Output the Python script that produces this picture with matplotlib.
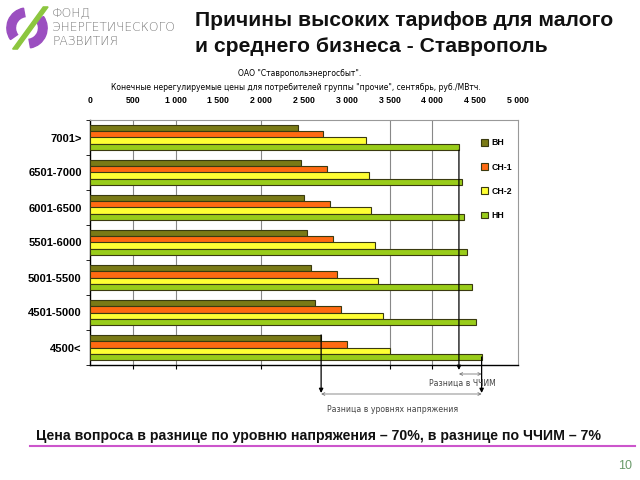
import matplotlib
matplotlib.use("Agg")
import matplotlib.pyplot as plt
import matplotlib.transforms as mtransforms
from matplotlib.patches import Wedge, Polygon
import numpy as np

plt.rcParams['font.family'] = ['Liberation Sans', 'DejaVu Sans']

categories = ["4500<", "4501-5000", "5001-5500", "5501-6000", "6001-6500", "6501-7000", "7001>"]
series_names = ["ВН", "СН-1", "СН-2", "НН"]
vn = [2700, 2630, 2580, 2535, 2500, 2470, 2430]
sn1 = [3000, 2930, 2880, 2840, 2800, 2765, 2720]
sn2 = [3500, 3420, 3370, 3325, 3285, 3260, 3220]
nn = [4575, 4515, 4460, 4410, 4370, 4340, 4310]
top_ticks = [0, 500, 1000, 1500, 2000, 2500, 3000, 3500, 4000, 4500, 5000]
top_tick_labels = ["0", "500", "1 000", "1 500", "2 000", "2 500", "3 000", "3 500", "4 000", "4 500", "5 000"]
grid_ticks = [500, 1000, 2000, 3500, 4000]

colors = ["#7a7a16", "#ff6a12", "#ffff33", "#99cc1a"]
edge = "#3a3a10"

fig = plt.figure(figsize=(6.4, 4.8), dpi=100)
W, H = 640, 480

def fx(px):
    return px / W

def fy(py):
    return 1 - py / H

# ---- Logo ----
lax = fig.add_axes([fx(4), fy(52), fx(46), 48 / H])
lax.set_xlim(-1.2, 1.2)
lax.set_ylim(-1.2, 1.2)
lax.set_aspect('equal')
lax.axis('off')
purple = "#9b4fc0"
lax.add_patch(Wedge((0, 0), 1.05, 100, 215, width=0.45, color=purple))
lax.add_patch(Wedge((0, 0), 1.05, 280, 35, width=0.45, color=purple))
lax.add_patch(Polygon([[-0.75, -1.1], [-0.5, -1.1], [1.1, 1.1], [0.85, 1.1]], closed=True, color="#8cc63f"))

for txt, yy in [("ФОНД", 12), ("ЭНЕРГЕТИЧЕСКОГО", 27), ("РАЗВИТИЯ", 41)]:
    fig.text(fx(52), fy(yy), txt, fontsize=8.8, color="#7a7a7a", va='center', ha='left',
             family=['DejaVu Sans'], fontweight='light')

# ---- Title ----
fig.text(fx(195), fy(20), "Причины высоких тарифов для малого", fontsize=15.2, fontweight='bold',
         va='center', ha='left', color="#111111")
fig.text(fx(195), fy(47), "и среднего бизнеса - Ставрополь", fontsize=15.2, fontweight='bold',
         va='center', ha='left', color="#111111")

# ---- Chart ----
ax = fig.add_axes([fx(90), fy(365), fx(518) - fx(90), (365 - 120) / H])
y = np.arange(len(categories))
bh = 0.18
offsets = [1.5 * bh, 0.5 * bh, -0.5 * bh, -1.5 * bh]
for vals, off, c, name in zip([vn, sn1, sn2, nn], offsets, colors, series_names):
    ax.barh(y + off, vals, height=bh, color=c, edgecolor=edge, linewidth=0.8, label=name, zorder=3)

ax.set_xlim(0, 5000)
ax.set_ylim(-0.5, len(categories) - 0.5)
ax.set_yticks(y)
ax.set_yticklabels(categories, fontsize=8, fontweight='bold')
ax.set_yticks(np.arange(-0.5, len(categories), 1), minor=True)
ax.tick_params(axis='y', which='major', length=0, pad=6)
ax.tick_params(axis='y', which='minor', length=3, direction='out')
ax.set_xticks(grid_ticks)
ax.set_xticklabels([])
ax.tick_params(axis='x', length=3, direction='out')
ax.grid(axis='x', color="#888888", linewidth=0.8, zorder=0)
for s in ['top', 'right']:
    ax.spines[s].set_color("#999999")
    ax.spines[s].set_linewidth(0.8)
for s in ['left', 'bottom']:
    ax.spines[s].set_color("#000000")
    ax.spines[s].set_linewidth(1.0)

sec = ax.secondary_xaxis('top')
sec.set_xticks(top_ticks)
sec.set_xticklabels(top_tick_labels, fontsize=6.3, fontweight='bold')
sec.tick_params(length=0, pad=11)
sec.spines['top'].set_visible(False)

fig.text(fx(300), fy(73), 'ОАО "Ставропольэнергосбыт".', fontsize=5.5, ha='center', va='center',
         family=['DejaVu Sans'])
fig.text(fx(296), fy(87), 'Конечные нерегулируемые цены для потребителей группы "прочие", сентябрь, руб./МВтч.',
         fontsize=5.5, ha='center', va='center', family=['DejaVu Sans'])

leg = ax.legend(loc='upper left', bbox_to_anchor=(0.905, 0.94), frameon=False, fontsize=6.3,
                handlelength=0.8, handleheight=0.8, labelspacing=1.75, handletextpad=0.4,
                borderaxespad=0)
for t in leg.get_texts():
    t.set_fontweight('bold')

# ---- Annotations ----
trans = mtransforms.blended_transform_factory(ax.transData, ax.transAxes)
def yfr(py):
    return (365 - py) / 245

x_vn = vn[0]
x_nn_low = nn[0]
x_nn_top = nn[-1]
arrow_kw = dict(arrowstyle='-|>', color='black', lw=0.9, mutation_scale=6, shrinkA=0, shrinkB=0)
ax.annotate("", xy=(x_vn, yfr(393)), xycoords=trans,
            xytext=(x_vn, y[0] + offsets[0] + bh / 2), textcoords='data', arrowprops=arrow_kw,
            annotation_clip=False)
ax.annotate("", xy=(x_nn_low, yfr(393)), xycoords=trans,
            xytext=(x_nn_low, y[0] + offsets[3]), textcoords='data', arrowprops=arrow_kw,
            annotation_clip=False)
ax.annotate("", xy=(x_nn_top, yfr(370)), xycoords=trans,
            xytext=(x_nn_top, y[-1] + offsets[3] - bh / 2), textcoords='data', arrowprops=arrow_kw,
            annotation_clip=False)
gray_kw = dict(arrowstyle='<->', color='#777777', lw=0.6, mutation_scale=5, shrinkA=0, shrinkB=0)
ax.annotate("", xy=(x_vn, yfr(394)), xycoords=trans, xytext=(x_nn_low, yfr(394)), textcoords=trans,
            arrowprops=gray_kw, annotation_clip=False)
ax.annotate("", xy=(x_nn_top, yfr(374)), xycoords=trans, xytext=(x_nn_low, yfr(374)), textcoords=trans,
            arrowprops=gray_kw, annotation_clip=False)
ax.text(4345, yfr(383), "Разница в ЧЧИМ", transform=trans, fontsize=5.6, color="#444444",
        ha='center', va='center', family=['DejaVu Sans'])
ax.text(3540, yfr(409), "Разница в уровнях напряжения", transform=trans, fontsize=5.6,
        color="#444444", ha='center', va='center', family=['DejaVu Sans'])

# ---- Bottom text ----
fig.text(fx(318), fy(436), "Цена вопроса в разнице по уровню напряжения – 70%, в разнице по ЧЧИМ – 7%",
         fontsize=10.2, fontweight='bold', ha='center', va='center', color="#111111")
fig.add_artist(plt.Line2D([fx(30), fx(635)], [fy(446), fy(446)], color="#cc55cc", lw=1.5))
fig.text(fx(632), fy(466), "10", fontsize=9, color="#6a9a6a", ha='right', va='center')

fig.savefig("out.png", dpi=100)
